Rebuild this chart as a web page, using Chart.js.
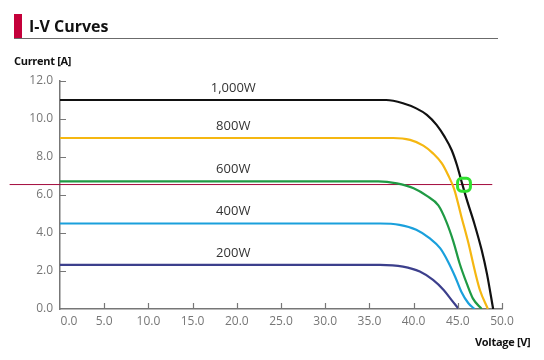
<!DOCTYPE html>
<html><head><meta charset="utf-8">
<script src="https://cdn.jsdelivr.net/npm/chart.js@4.4.1/dist/chart.umd.min.js"></script>
<style>
html,body{margin:0;padding:0;background:#fff;}
#wrap{position:relative;width:544px;height:360px;overflow:hidden;font-family:"Open Sans",sans-serif;}
#c{position:absolute;left:0;top:0;}
.bar{position:absolute;left:14px;top:14px;width:8px;height:24px;background:#c4003a;}
.rule{position:absolute;left:14px;top:38px;width:484px;height:0;border-top:1.5px solid #6b6b6b;}
.title{position:absolute;left:29px;top:14px;font-size:16px;font-weight:700;color:#111;line-height:24px;white-space:nowrap;}
.ylab{position:absolute;left:14px;top:53px;font-size:11px;font-weight:700;color:#111;line-height:16px;white-space:nowrap;letter-spacing:-0.3px;}
.xlab{position:absolute;left:475px;top:334px;font-size:11px;font-weight:700;color:#111;line-height:16px;white-space:nowrap;letter-spacing:-0.3px;}
</style></head>
<body>
<div id="wrap">
<canvas id="c" width="544" height="360"></canvas>
<div class="bar"></div><div class="rule"></div>
<div class="title">I-V Curves</div>
<div class="ylab">Current [A]</div>
<div class="xlab">Voltage [V]</div>
</div>
<script>
// ---- data ----
const xTickLabels = ['0.0','5.0','10.0','15.0','20.0','25.0','30.0','35.0','40.0','45.0','50.0'];
const yTickLabels = ['0.0','2.0','4.0','6.0','8.0','10.0','12.0'];

const seriesNames = ['1,000W','800W','600W','400W','200W'];
const seriesColors = ['#111111','#f5b711','#1f9a44','#1aa0dc','#3c3f8c'];

const v1000 = [0, 20, 36.9, 38.8, 40.3, 41.5, 42.6, 43.5, 44.3, 44.9, 45.4, 46.0, 46.9, 47.7, 48.3, 49.0];
const i1000 = [11.0, 11.0, 11.0, 10.83, 10.56, 10.22, 9.69, 9.07, 8.37, 7.58, 6.75, 5.78, 4.45, 3.1, 1.85, 0];

const v800 = [0, 20, 37.7, 39.6, 41.1, 42.2, 43.2, 43.9, 44.6, 45.4, 46.2, 46.9, 47.5, 48.4];
const i800 = [9.0, 9.0, 9.0, 8.9, 8.6, 8.19, 7.66, 7.05, 6.3, 4.87, 3.47, 2.06, 1.0, 0];

const v600 = [0, 20, 36, 38.1, 40.0, 41.5, 42.8, 43.7, 44.5, 45.2, 46.0, 46.7, 47.7];
const i600 = [6.72, 6.72, 6.72, 6.61, 6.35, 5.95, 5.45, 4.6, 3.55, 2.41, 1.36, 0.56, 0];

const v400 = [0, 20, 36.2, 38.4, 40.3, 41.8, 43.0, 43.9, 44.7, 45.4, 46.2, 46.9];
const i400 = [4.5, 4.5, 4.5, 4.43, 4.17, 3.73, 3.2, 2.49, 1.70, 0.91, 0.3, 0];

const v200 = [0, 20, 36.2, 38.8, 40.7, 42.2, 43.4, 44.3, 45.1];
const i200 = [2.32, 2.32, 2.32, 2.23, 1.97, 1.53, 1.0, 0.47, 0];

const refLineV = [-5.7, 48.9];
const refLineI = [6.55, 6.55];
const markerV = [45.7];
const markerI = [6.54];

const labelVoltage = 19.6;

// ---- build ----
const curveV = [v1000, v800, v600, v400, v200];
const curveI = [i1000, i800, i600, i400, i200];
const toPts = (xs, ys) => xs.map((x, k) => ({x, y: ys[k]}));

const datasets = [];
datasets.push({
  label: 'marker', data: toPts(markerV, markerI), showLine: false,
  pointStyle: 'rectRounded', pointRadius: 7.5, pointBorderWidth: 3,
  pointBorderColor: '#2fe02f', pointBackgroundColor: 'rgba(0,0,0,0)', order: 0, clip: false
});
curveV.forEach((vs, k) => {
  datasets.push({
    label: seriesNames[k], data: toPts(vs, curveI[k]),
    borderColor: seriesColors[k], borderWidth: 2.2, pointRadius: 0,
    cubicInterpolationMode: 'monotone', fill: false, order: 1
  });
});
datasets.push({
  label: 'ref', data: toPts(refLineV, refLineI), borderColor: '#a30a3c',
  borderWidth: 1, pointRadius: 0, clip: false, order: 2
});

const extras = {
  id: 'extras',
  afterDraw(chart) {
    const ctx = chart.ctx, xs = chart.scales.x, ys = chart.scales.y;
    ctx.save();
    ctx.strokeStyle = '#777'; ctx.lineWidth = 1.2;
    ctx.beginPath();
    xs.ticks.forEach((t, i) => {
      const px = Math.round(xs.getPixelForTick(i)) + 0.5;
      if (i === 0) return;
      ctx.moveTo(px, xs.top); ctx.lineTo(px, xs.top - 6);
    });
    ys.ticks.forEach((t, i) => {
      const py = Math.round(ys.getPixelForTick(i)) + 0.5;
      if (i === 0) return;
      ctx.moveTo(ys.right, py); ctx.lineTo(ys.right + 6, py);
    });
    ctx.stroke();
    ctx.fillStyle = '#333';
    ctx.font = '13px "Open Sans"';
    ctx.textAlign = 'center'; ctx.textBaseline = 'middle';
    seriesNames.forEach((n, k) => {
      const px = xs.getPixelForValue(labelVoltage);
      const py = ys.getPixelForValue(curveI[k][0]) - 12;
      ctx.fillText(n, px, py);
    });
    ctx.restore();
  }
};

new Chart(document.getElementById('c'), {
  type: 'line',
  data: { datasets },
  plugins: [extras],
  options: {
    responsive: false, animation: false,
    layout: { padding: { left: 0, right: 42, top: 81, bottom: 0 } },
    plugins: { legend: { display: false }, tooltip: { enabled: false } },
    scales: {
      x: {
        type: 'linear', min: 0, max: 50,
        ticks: {
          stepSize: 5, autoSkip: false, maxRotation: 0, padding: 5, color: '#777',
          font: { size: 12, family: 'Open Sans' },
          callback: (v, i) => (i === 0 ? '\u2002\u2002\u2002' : '') + xTickLabels[i]
        },
        grid: { drawOnChartArea: false, drawTicks: false },
        border: { color: '#777', width: 1.5 },
        afterFit: s => { s.height = 51; }
      },
      y: {
        min: 0, max: 12,
        ticks: {
          stepSize: 2, padding: 7, color: '#777',
          font: { size: 12, family: 'Open Sans' },
          callback: (v, i) => yTickLabels[i]
        },
        grid: { drawOnChartArea: false, drawTicks: false },
        border: { color: '#777', width: 1.5 },
        afterFit: s => { s.width = 60; }
      }
    }
  }
});
</script>
</body></html>
